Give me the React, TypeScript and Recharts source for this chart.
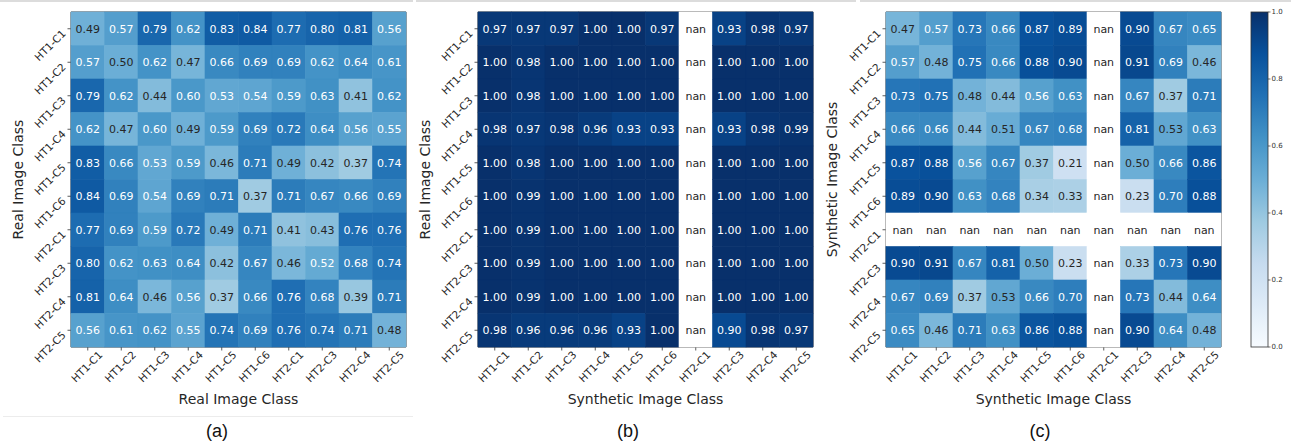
import React from "react";
import {
  Bar,
  BarChart,
  ReferenceArea,
  Scatter,
  ScatterChart,
  XAxis,
  YAxis,
} from "recharts";

// class labels shared by rows and columns
const CLASSES = [
  "HT1-C1", "HT1-C2", "HT1-C3", "HT1-C4", "HT1-C5",
  "HT1-C6", "HT2-C1", "HT2-C3", "HT2-C4", "HT2-C5",
];

// (a) real vs real
const REAL_REAL = [
  [0.49, 0.57, 0.79, 0.62, 0.83, 0.84, 0.77, 0.8, 0.81, 0.56],
  [0.57, 0.5, 0.62, 0.47, 0.66, 0.69, 0.69, 0.62, 0.64, 0.61],
  [0.79, 0.62, 0.44, 0.6, 0.53, 0.54, 0.59, 0.63, 0.41, 0.62],
  [0.62, 0.47, 0.6, 0.49, 0.59, 0.69, 0.72, 0.64, 0.56, 0.55],
  [0.83, 0.66, 0.53, 0.59, 0.46, 0.71, 0.49, 0.42, 0.37, 0.74],
  [0.84, 0.69, 0.54, 0.69, 0.71, 0.37, 0.71, 0.67, 0.66, 0.69],
  [0.77, 0.69, 0.59, 0.72, 0.49, 0.71, 0.41, 0.43, 0.76, 0.76],
  [0.8, 0.62, 0.63, 0.64, 0.42, 0.67, 0.46, 0.52, 0.68, 0.74],
  [0.81, 0.64, 0.46, 0.56, 0.37, 0.66, 0.76, 0.68, 0.39, 0.71],
  [0.56, 0.61, 0.62, 0.55, 0.74, 0.69, 0.76, 0.74, 0.71, 0.48],
];

// (b) real vs synthetic (null = nan)
const REAL_SYN = [
  [0.97, 0.97, 0.97, 1.0, 1.0, 0.97, null, 0.93, 0.98, 0.97],
  [1.0, 0.98, 1.0, 1.0, 1.0, 1.0, null, 1.0, 1.0, 1.0],
  [1.0, 0.98, 1.0, 1.0, 1.0, 1.0, null, 1.0, 1.0, 1.0],
  [0.98, 0.97, 0.98, 0.96, 0.93, 0.93, null, 0.93, 0.98, 0.99],
  [1.0, 0.98, 1.0, 1.0, 1.0, 1.0, null, 1.0, 1.0, 1.0],
  [1.0, 0.99, 1.0, 1.0, 1.0, 1.0, null, 1.0, 1.0, 1.0],
  [1.0, 0.99, 1.0, 1.0, 1.0, 1.0, null, 1.0, 1.0, 1.0],
  [1.0, 0.99, 1.0, 1.0, 1.0, 1.0, null, 1.0, 1.0, 1.0],
  [1.0, 0.99, 1.0, 1.0, 1.0, 1.0, null, 1.0, 1.0, 1.0],
  [0.98, 0.96, 0.96, 0.96, 0.93, 1.0, null, 0.9, 0.98, 0.97],
];

// (c) synthetic vs synthetic
const SYN_SYN = [
  [0.47, 0.57, 0.73, 0.66, 0.87, 0.89, null, 0.9, 0.67, 0.65],
  [0.57, 0.48, 0.75, 0.66, 0.88, 0.9, null, 0.91, 0.69, 0.46],
  [0.73, 0.75, 0.48, 0.44, 0.56, 0.63, null, 0.67, 0.37, 0.71],
  [0.66, 0.66, 0.44, 0.51, 0.67, 0.68, null, 0.81, 0.53, 0.63],
  [0.87, 0.88, 0.56, 0.67, 0.37, 0.21, null, 0.5, 0.66, 0.86],
  [0.89, 0.9, 0.63, 0.68, 0.34, 0.33, null, 0.23, 0.7, 0.88],
  [null, null, null, null, null, null, null, null, null, null],
  [0.9, 0.91, 0.67, 0.81, 0.5, 0.23, null, 0.33, 0.73, 0.9],
  [0.67, 0.69, 0.37, 0.53, 0.66, 0.7, null, 0.73, 0.44, 0.64],
  [0.65, 0.46, 0.71, 0.63, 0.86, 0.88, null, 0.9, 0.64, 0.48],
];

const COLORBAR_TICKS = [0, 0.2, 0.4, 0.6, 0.8, 1.0];
const CELL_TICKS = [0.5, 1.5, 2.5, 3.5, 4.5, 5.5, 6.5, 7.5, 8.5, 9.5];

// matplotlib "Blues"
const BLUES = [
  [247, 251, 255], [222, 235, 247], [198, 219, 239], [158, 202, 225],
  [107, 174, 214], [66, 146, 198], [33, 113, 181], [8, 81, 156], [8, 48, 107],
];

const blues = (v: number) => {
  const t = Math.max(0, Math.min(1, v)) * (BLUES.length - 1);
  const i = Math.min(Math.floor(t), BLUES.length - 2);
  const f = t - i;
  const c = BLUES[i].map((a, k) => Math.round(a + (BLUES[i + 1][k] - a) * f));
  return `rgb(${c[0]},${c[1]},${c[2]})`;
};

const FONT = "'DejaVu Sans', sans-serif";
const DARK = "#262626";
const PLOT_W = 335;
const PLOT_H = 335;
const TOP = 12;
const CHART_H = 447;
const CW = PLOT_W / 10;
const CH = PLOT_H / 10;

const toPoints = (m: (number | null)[][]) =>
  m.flatMap((row, r) => row.map((v, c) => ({ x: c + 0.5, y: r + 0.5, v })));

const HeatCell = (props: any) => {
  const { cx, cy, payload, cutoff } = props;
  const v = payload.v;
  const isNan = v === null;
  const fill = isNan ? "#ffffff" : blues(v);
  const textFill = isNan || v < cutoff ? DARK : "#ffffff";
  return (
    <g>
      <rect
        x={cx - CW / 2}
        y={cy - CH / 2}
        width={CW}
        height={CH}
        fill={fill}
        stroke={fill}
        strokeWidth={0.6}
      />
      <text
        x={cx}
        y={cy}
        dy="0.36em"
        textAnchor="middle"
        fontSize={11}
        fontFamily={FONT}
        fill={textFill}
      >
        {isNan ? "nan" : v.toFixed(2)}
      </text>
    </g>
  );
};

const XTick = (props: any) => {
  const { x, y, payload } = props;
  const ax = x + 15.5;
  const ay = y + 5;
  return (
    <text
      x={ax}
      y={ay}
      transform={`rotate(-45 ${ax} ${ay})`}
      textAnchor="end"
      fontSize={10.5}
      fontFamily={FONT}
      fill={DARK}
    >
      {CLASSES[Math.floor(payload.value)]}
    </text>
  );
};

const YTick = (props: any) => {
  const { x, y, payload } = props;
  const ax = x - 1;
  const ay = y + 5.5;
  return (
    <text
      x={ax}
      y={ay}
      transform={`rotate(-45 ${ax} ${ay})`}
      textAnchor="end"
      fontSize={10.5}
      fontFamily={FONT}
      fill={DARK}
    >
      {CLASSES[Math.floor(payload.value)]}
    </text>
  );
};

const AxisTitle = ({ px, py, text, vertical }: any) => (
  <text
    x={px}
    y={py}
    transform={vertical ? `rotate(-90 ${px} ${py})` : undefined}
    textAnchor="middle"
    dominantBaseline="central"
    fontSize={14}
    fontFamily={FONT}
    fill={DARK}
  >
    {text}
  </text>
);

interface PanelProps {
  data: (number | null)[][];
  left: number;
  width: number;
  yAxisWidth: number;
  xTitle: string;
  yTitle: string;
  yTitleX: number;
  cutoff: number;
  letter: string;
  letterX: number;
}

const Panel = ({
  data, left, width, yAxisWidth, xTitle, yTitle, yTitleX, cutoff, letter, letterX,
}: PanelProps) => {
  const points = toPoints(data);
  const right = width - yAxisWidth - PLOT_W;
  return (
    <div style={{ position: "absolute", left, top: 0 }}>
      <ScatterChart
        width={width}
        height={CHART_H}
        margin={{ top: TOP, right, bottom: 0, left: 0 }}
      >
        <XAxis
          type="number"
          dataKey="x"
          domain={[0, 10]}
          ticks={CELL_TICKS}
          interval={0}
          height={CHART_H - TOP - PLOT_H}
          axisLine={false}
          tickSize={3.5}
          tickMargin={0}
          tickLine={{ stroke: "#333", strokeWidth: 0.8 }}
          tick={<XTick />}
          label={<AxisTitle px={yAxisWidth + PLOT_W / 2} py={399} text={xTitle} />}
        />
        <YAxis
          type="number"
          dataKey="y"
          domain={[0, 10]}
          reversed
          ticks={CELL_TICKS}
          interval={0}
          width={yAxisWidth}
          axisLine={false}
          tickSize={3.5}
          tickMargin={0}
          tickLine={{ stroke: "#333", strokeWidth: 0.8 }}
          tick={<YTick />}
          label={<AxisTitle px={yTitleX} py={TOP + PLOT_H / 2} text={yTitle} vertical />}
        />
        <Scatter
          data={points}
          isAnimationActive={false}
          shape={(p: any) => <HeatCell {...p} cutoff={cutoff} />}
        />
        <ReferenceArea
          x1={0}
          x2={10}
          y1={0}
          y2={10}
          fill="none"
          fillOpacity={0}
          stroke="#3a3a3a"
          strokeWidth={1}
        />
      </ScatterChart>
      <div
        style={{
          position: "absolute",
          left: letterX - left - 30,
          width: 60,
          top: 421,
          textAlign: "center",
          fontFamily: "'Liberation Sans', Arial, sans-serif",
          fontSize: 18,
          color: "#111",
        }}
      >
        {letter}
      </div>
    </div>
  );
};

const ColorbarRect = (props: any) => {
  const { x, y, width, height } = props;
  return (
    <g>
      <defs>
        <linearGradient id="bluesBar" x1="0" y1="1" x2="0" y2="0">
          {BLUES.map((c, i) => (
            <stop
              key={i}
              offset={`${(i / (BLUES.length - 1)) * 100}%`}
              stopColor={`rgb(${c[0]},${c[1]},${c[2]})`}
            />
          ))}
        </linearGradient>
      </defs>
      <rect
        x={x}
        y={y}
        width={width}
        height={height}
        fill="url(#bluesBar)"
        stroke="#333"
        strokeWidth={0.8}
      />
    </g>
  );
};

const Colorbar = () => (
  <div style={{ position: "absolute", left: 1240, top: 0 }}>
    <BarChart
      width={51}
      height={CHART_H}
      data={[{ name: "cb", v: 1 }]}
      margin={{ top: TOP, right: 0, bottom: CHART_H - TOP - PLOT_H, left: 11 }}
      barCategoryGap={0}
    >
      <XAxis dataKey="name" hide />
      <YAxis
        orientation="right"
        type="number"
        domain={[0, 1]}
        ticks={COLORBAR_TICKS}
        interval={0}
        width={23}
        axisLine={false}
        tickSize={2.5}
        tickMargin={1}
        tickLine={{ stroke: "#333", strokeWidth: 0.7 }}
        tick={{ fontSize: 7, fontFamily: FONT, fill: "#333" }}
        tickFormatter={(v: number) => v.toFixed(1)}
      />
      <Bar dataKey="v" isAnimationActive={false} shape={<ColorbarRect />} />
    </BarChart>
  </div>
);

export default function App() {
  return (
    <div
      style={{
        position: "absolute",
        left: 0,
        top: 0,
        width: 1291,
        height: 447,
        background: "#fff",
        overflow: "hidden",
      }}
    >
      <div style={{ position: "absolute", left: 0, top: 0, width: 413, height: 2, background: "#dcdcdc" }} />
      <div style={{ position: "absolute", left: 416, top: 0, width: 440, height: 2, background: "#dcdcdc" }} />
      <div style={{ position: "absolute", left: 860, top: 0, width: 431, height: 2, background: "#dcdcdc" }} />
      <div style={{ position: "absolute", left: 3, top: 416, width: 410, height: 1, background: "#ececec" }} />
      <Panel
        data={REAL_REAL}
        left={0}
        width={415}
        yAxisWidth={71}
        xTitle="Real Image Class"
        yTitle="Real Image Class"
        yTitleX={18}
        cutoff={0.505}
        letter="(a)"
        letterX={217}
      />
      <Panel
        data={REAL_SYN}
        left={415}
        width={407}
        yAxisWidth={63}
        xTitle="Synthetic Image Class"
        yTitle="Real Image Class"
        yTitleX={10}
        cutoff={-1}
        letter="(b)"
        letterX={628}
      />
      <Panel
        data={SYN_SYN}
        left={822}
        width={410}
        yAxisWidth={64}
        xTitle="Synthetic Image Class"
        yTitle="Synthetic Image Class"
        yTitleX={10}
        cutoff={0.535}
        letter="(c)"
        letterX={1040}
      />
      <Colorbar />
    </div>
  );
}
